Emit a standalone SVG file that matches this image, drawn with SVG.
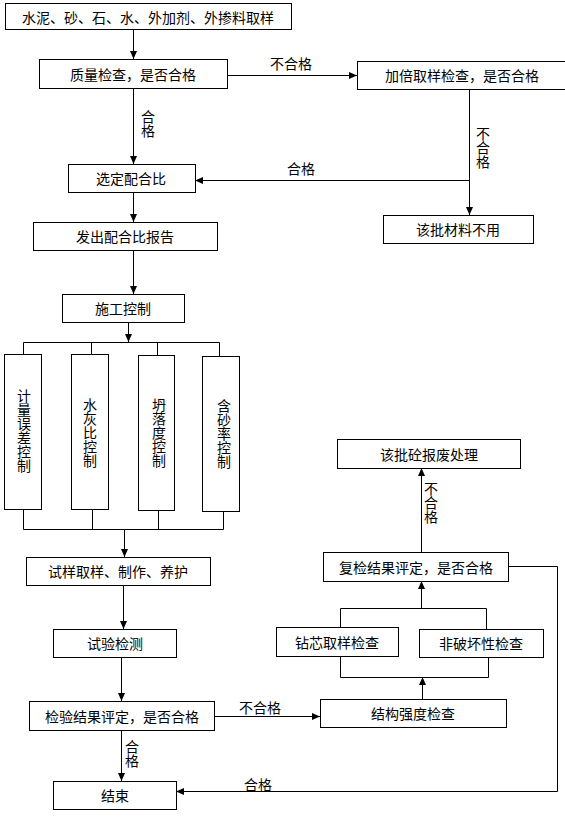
<svg xmlns="http://www.w3.org/2000/svg" width="565" height="822" viewBox="0 0 565 822">
<style>
.box{fill:#fff;stroke:#000;stroke-width:1}
.t{font-family:"Noto Sans CJK SC","Liberation Sans",sans-serif;font-size:14px;fill:#000;text-anchor:middle;dominant-baseline:central}
.v{font-family:"Noto Sans CJK SC","Liberation Sans",sans-serif;font-size:14px;fill:#000;writing-mode:vertical-rl;text-anchor:start}
.ln{fill:none;stroke:#000;stroke-width:1}
.ar{fill:none;stroke:#000;stroke-width:1;marker-end:url(#ah)}
</style>
<defs>
<marker id="ah" markerUnits="userSpaceOnUse" markerWidth="8" markerHeight="8" refX="8" refY="4" orient="auto">
<path d="M0,0.5 L8,4 L0,7.5 z" fill="#000"/>
</marker>
</defs>
<rect x="0" y="0" width="565" height="822" fill="#fff"/>
<g id="connectors">
<path class="ar" d="M133.5,29 V59"/>
<path class="ar" d="M227,75.5 H357"/>
<path class="ar" d="M133.5,89 V164"/>
<path class="ar" d="M469.5,89 V215"/>
<path class="ar" d="M469.5,180.5 H195"/>
<path class="ar" d="M133.5,192 V222"/>
<path class="ar" d="M133.5,250 V294"/>
<path class="ar" d="M128.5,322 V342"/>
<path class="ln" d="M23.5,354 V342.5 H219.5 V356 M91.5,342.5 V354 M157.5,342.5 V355"/>
<path class="ln" d="M23.5,509 V529.5 H223.5 V511 M92.5,509 V529.5 M158.5,510 V529.5"/>
<path class="ar" d="M124.5,529.5 V557"/>
<path class="ar" d="M123.5,585 V629"/>
<path class="ar" d="M121.5,657 V701"/>
<path class="ar" d="M121.5,730 V781"/>
<path class="ar" d="M214,716.5 H320"/>
<path class="ar" d="M422.5,699 V677"/>
<path class="ln" d="M340.5,656 V677.5 H488.5 V657"/>
<path class="ln" d="M340.5,627 V608.5 H486.5 V629"/>
<path class="ar" d="M421.5,608.5 V581"/>
<path class="ar" d="M421.5,552 V468"/>
<path class="ar" d="M508,566.5 H557.5 V791.5 H176"/>
<text class="t" x="291" y="63">不合格</text>
<text class="v" x="148" y="110">合格</text>
<text class="v" x="483" y="127">不合格</text>
<text class="t" x="301" y="168">合格</text>
<text class="v" x="431" y="482">不合格</text>
<text class="t" x="260" y="707">不合格</text>
<text class="v" x="132" y="740">合格</text>
<text class="t" x="258" y="784">合格</text>
</g>
<g id="n1"><rect class="box" x="5.5" y="3.5" width="286" height="26"/><text class="t" x="148" y="16.5">水泥、砂、石、水、外加剂、外掺料取样</text></g>
<g id="n2"><rect class="box" x="39.5" y="59.5" width="188" height="29"/><text class="t" x="133" y="74">质量检查，是否合格</text></g>
<g id="n3"><rect class="box" x="357.5" y="61.5" width="210" height="28"/><text class="t" x="462" y="75">加倍取样检查，是否合格</text></g>
<g id="n4"><rect class="box" x="68.5" y="164.5" width="127" height="28"/><text class="t" x="131" y="178">选定配合比</text></g>
<g id="n5"><rect class="box" x="383.5" y="215.5" width="150" height="28"/><text class="t" x="458" y="229">该批材料不用</text></g>
<g id="n6"><rect class="box" x="33.5" y="222.5" width="184" height="28"/><text class="t" x="125" y="236">发出配合比报告</text></g>
<g id="n7"><rect class="box" x="62.5" y="294.5" width="122" height="28"/><text class="t" x="123" y="308">施工控制</text></g>
<g id="n8"><rect class="box" x="4.5" y="354.5" width="37" height="155"/><text class="v" x="24" y="389">计量误差控制</text></g>
<g id="n9"><rect class="box" x="71.5" y="354.5" width="37" height="155"/><text class="v" x="90" y="398">水灰比控制</text></g>
<g id="n10"><rect class="box" x="138.5" y="355.5" width="36" height="155"/><text class="v" x="159" y="398">坍落度控制</text></g>
<g id="n11"><rect class="box" x="202.5" y="356.5" width="37" height="155"/><text class="v" x="224" y="399">含砂率控制</text></g>
<g id="n12"><rect class="box" x="26.5" y="557.5" width="184" height="28"/><text class="t" x="118" y="571">试样取样、制作、养护</text></g>
<g id="n13"><rect class="box" x="53.5" y="629.5" width="123" height="28"/><text class="t" x="115" y="643">试验检测</text></g>
<g id="n14"><rect class="box" x="29.5" y="701.5" width="185" height="29"/><text class="t" x="122" y="716">检验结果评定，是否合格</text></g>
<g id="n15"><rect class="box" x="53.5" y="781.5" width="123" height="28"/><text class="t" x="115" y="795">结束</text></g>
<g id="n16"><rect class="box" x="337.5" y="439.5" width="183" height="29"/><text class="t" x="429" y="454">该批砼报废处理</text></g>
<g id="n17"><rect class="box" x="323.5" y="552.5" width="185" height="29"/><text class="t" x="416" y="567">复检结果评定，是否合格</text></g>
<g id="n18"><rect class="box" x="276.5" y="627.5" width="122" height="29"/><text class="t" x="337" y="642">钻芯取样检查</text></g>
<g id="n19"><rect class="box" x="419.5" y="629.5" width="124" height="28"/><text class="t" x="481" y="643">非破坏性检查</text></g>
<g id="n20"><rect class="box" x="320.5" y="699.5" width="186" height="28"/><text class="t" x="413" y="713">结构强度检查</text></g>
</svg>
